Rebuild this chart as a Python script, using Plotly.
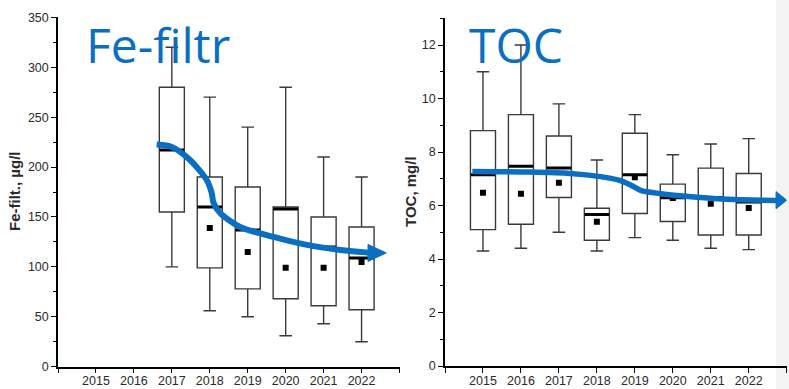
import plotly.graph_objects as go

# ---------------- data ----------------
fe_years = [2017, 2018, 2019, 2020, 2021, 2022]
fe_max = [320, 270, 240, 280, 210, 190]
fe_q3 = [280, 190, 180, 160, 150, 140]
fe_median = [217, 160, 137, 158, 120, 109]
fe_q1 = [155, 99, 78, 68, 61, 57]
fe_min = [100, 56, 50, 31, 43, 25]
fe_mean = [None, 139, 115, 99, 99, 105]

toc_years = [2015, 2016, 2017, 2018, 2019, 2020, 2021, 2022]
toc_max = [11.0, 12.0, 9.8, 7.7, 9.4, 7.9, 8.3, 8.5]
toc_q3 = [8.8, 9.4, 8.6, 5.9, 8.7, 6.8, 7.4, 7.2]
toc_median = [7.15, 7.47, 7.4, 5.66, 7.15, 6.29, 6.3, 6.13]
toc_q1 = [5.1, 5.3, 6.3, 4.7, 5.7, 5.4, 4.9, 4.9]
toc_min = [4.3, 4.4, 5.0, 4.3, 4.8, 4.7, 4.4, 4.35]
toc_mean = [6.48, 6.44, 6.85, 5.39, 7.06, 6.28, 6.07, 5.91]

tick_years = list(range(2014, 2024))
tick_labels = [""] + [str(y) for y in range(2015, 2023)] + [""]

# trend arrows (hand-drawn annotation in the original)
fe_arrow_x = [2016.6, 2017.0, 2017.48, 2017.92, 2018.05, 2018.1, 2018.27, 2018.8, 2019.68, 2020.56, 2021.44, 2022.25]
fe_arrow_y = [222.5, 220, 207, 187, 174, 164, 154, 140, 130, 122, 117, 114]
fe_head_x = [2022.17, 2022.65, 2022.17, 2022.17]
fe_head_y = [122.5, 114, 105.5, 122.5]

toc_arrow_x = [2014.72, 2016.2, 2017.3, 2018.1, 2018.6, 2018.9, 2019.15, 2019.7, 2020.56, 2021.44, 2022.75]
toc_arrow_y = [7.27, 7.25, 7.2, 7.08, 6.94, 6.76, 6.57, 6.44, 6.32, 6.23, 6.19]
toc_head_x = [2022.72, 2023.0, 2022.72, 2022.72]
toc_head_y = [6.52, 6.2, 5.88, 6.52]

BLUE = "#0a6fc2"
BOXLINE = "#3a3a3a"
TXT = "#2a2a2a"

fig = go.Figure()


def add_panel(years, q1, med, q3, lo, hi, mean, ax, ay, hx, hy, xa, ya, lw):
    fig.add_trace(go.Box(
        x=years, q1=q1, median=med, q3=q3, lowerfence=lo, upperfence=hi,
        width=0.66, whiskerwidth=0.5, fillcolor="white",
        line=dict(color=BOXLINE, width=1.4), boxpoints=False,
        xaxis=xa, yaxis=ya, showlegend=False))
    fig.add_trace(go.Scatter(
        x=years, y=mean, mode="markers",
        marker=dict(symbol="square", size=6, color="black"),
        xaxis=xa, yaxis=ya, showlegend=False))
    fig.add_trace(go.Scatter(
        x=years, y=med, mode="markers",
        marker=dict(symbol="line-ew", size=17.5, line=dict(width=3, color="black")),
        xaxis=xa, yaxis=ya, showlegend=False))
    fig.add_trace(go.Scatter(
        x=ax, y=ay, mode="lines", line=dict(color=BLUE, width=lw, shape="spline", smoothing=0.8),
        xaxis=xa, yaxis=ya, showlegend=False))
    fig.add_trace(go.Scatter(
        x=hx, y=hy, mode="lines", fill="toself", fillcolor=BLUE, line=dict(color=BLUE, width=1),
        xaxis=xa, yaxis=ya, showlegend=False))


add_panel(fe_years, fe_q1, fe_median, fe_q3, fe_min, fe_max, fe_mean,
          fe_arrow_x, fe_arrow_y, fe_head_x, fe_head_y, "x", "y", 6)
add_panel(toc_years, toc_q1, toc_median, toc_q3, toc_min, toc_max, toc_mean,
          toc_arrow_x, toc_arrow_y, toc_head_x, toc_head_y, "x2", "y2", 5.5)

W, H = 789, 389
tickfont = dict(family="Liberation Sans, Arial", size=12.5, color=TXT)
xcommon = dict(range=[2014, 2023], tickvals=tick_years, ticktext=tick_labels,
               ticks="outside", ticklen=5, tickwidth=1.3, tickcolor="black",
               showline=True, linecolor="black", linewidth=1.5, ticklabelstandoff=-3,
               showgrid=False, zeroline=False, tickfont=tickfont, automargin=False)
ycommon = dict(ticks="outside", ticklen=5, tickwidth=1.3, tickcolor="black",
               showline=True, linecolor="black", linewidth=1.5,
               showgrid=False, zeroline=False, tickfont=tickfont, automargin=False)

fig.update_layout(
    width=W, height=H, margin=dict(l=0, r=0, t=0, b=0),
    paper_bgcolor="white", plot_bgcolor="rgba(0,0,0,0)",
    xaxis=dict(domain=[58 / W, 399.5 / W], **xcommon),
    yaxis=dict(domain=[22.3 / H, 371.7 / H], range=[0, 350], dtick=50,
               minor=dict(dtick=25, ticks="outside", ticklen=3, tickcolor="black", tickwidth=1.2),
               **ycommon),
    xaxis2=dict(domain=[445 / W, 786.7 / W], anchor="y2", **xcommon),
    yaxis2=dict(domain=[23 / H, 370.7 / H], range=[0, 13], dtick=2, anchor="x2",
                minor=dict(dtick=1, ticks="outside", ticklen=3, tickcolor="black", tickwidth=1.2),
                **ycommon),
    shapes=[dict(type="rect", xref="paper", yref="paper", x0=776 / W, x1=1, y0=0, y1=1,
                 fillcolor="#f3f3f3", line=dict(width=0), layer="below")],
    annotations=[
        dict(text="Fe-filtr", xref="paper", yref="paper", x=84 / W, y=1 - 44 / H,
             xanchor="left", yanchor="middle", showarrow=False,
             font=dict(family="Open Sans", size=48, color=BLUE)),
        dict(text="TOC", xref="paper", yref="paper", x=467 / W, y=1 - 44 / H,
             xanchor="left", yanchor="middle", showarrow=False,
             font=dict(family="Open Sans", size=48, color=BLUE)),
        dict(text="<b>Fe-filt., µg/l</b>", xref="paper", yref="paper", x=14 / W, y=1 - 192 / H,
             xanchor="center", yanchor="middle", textangle=-90, showarrow=False,
             font=dict(family="Liberation Sans, Arial", size=15, color=TXT)),
        dict(text="<b>TOC, mg/l</b>", xref="paper", yref="paper", x=410 / W, y=1 - 192 / H,
             xanchor="center", yanchor="middle", textangle=-90, showarrow=False,
             font=dict(family="Liberation Sans, Arial", size=15, color=TXT)),
    ],
)

fig.write_html("out.html")
